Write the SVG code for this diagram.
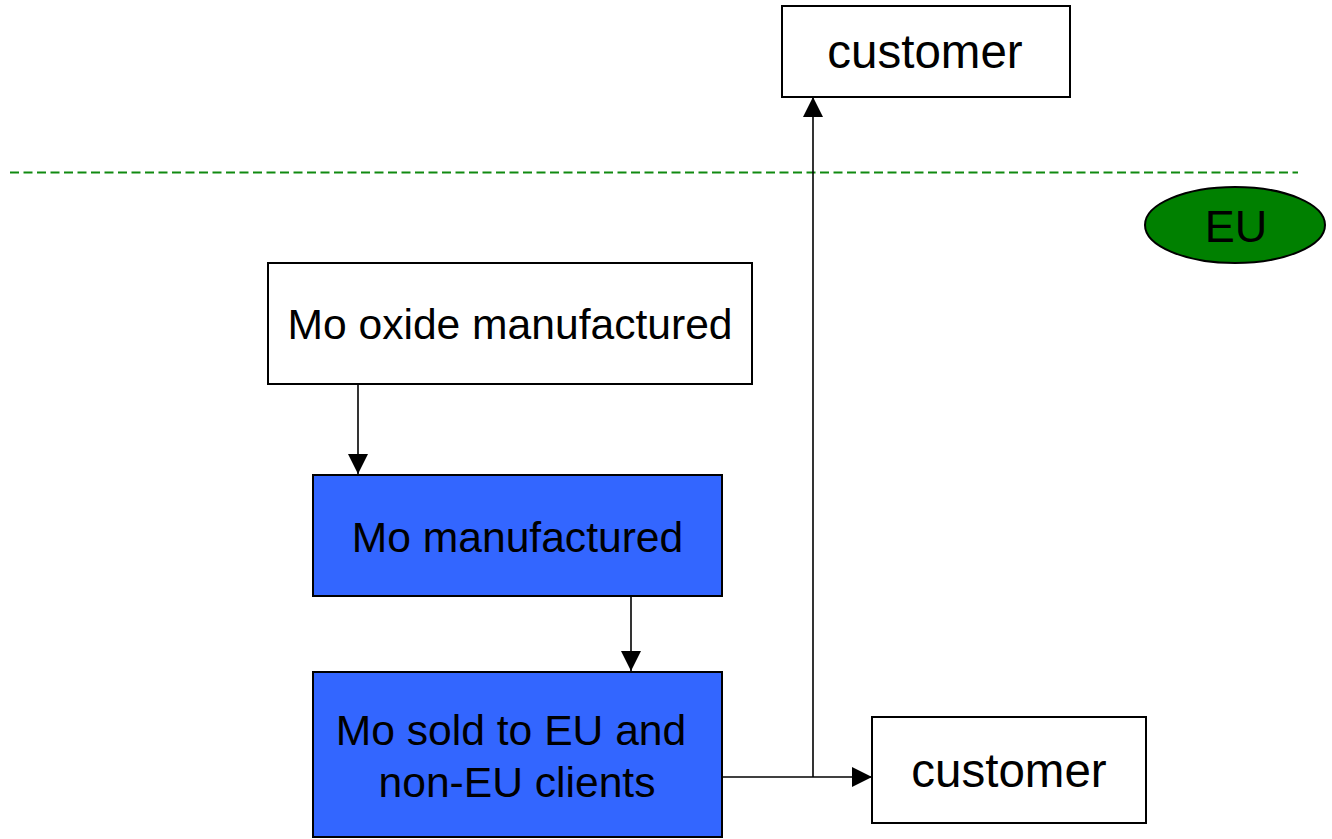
<svg xmlns="http://www.w3.org/2000/svg" width="1332" height="839" viewBox="0 0 1332 839">
<style>
.box{stroke:#000;stroke-width:2}
.w{fill:#fff}
.b{fill:#3366ff}
.t{font-family:"Liberation Sans",Arial,sans-serif;fill:#000;text-anchor:middle}
.c{stroke:#000;stroke-width:1.6;fill:none}
</style>
<defs>
<marker id="ah" viewBox="0 0 20 20" refX="20" refY="10" markerWidth="20" markerHeight="20" markerUnits="userSpaceOnUse" orient="auto">
<path d="M0,0 L20,10 L0,20 Z" fill="#000"/>
</marker>
</defs>
<rect width="1332" height="839" fill="#fff"/>
<line x1="10" y1="172.5" x2="1298" y2="172.5" stroke="#108a10" stroke-width="1.8" stroke-dasharray="9,4.5"/>
<g id="connectors">
<line class="c" x1="358" y1="384" x2="358" y2="474" marker-end="url(#ah)"/>
<line class="c" x1="631" y1="596" x2="631" y2="671" marker-end="url(#ah)"/>
<line class="c" x1="722" y1="777" x2="872" y2="777" marker-end="url(#ah)"/>
<line class="c" x1="813" y1="777" x2="813" y2="97" marker-end="url(#ah)"/>
</g>
<g id="customer-top">
<rect class="box w" x="782" y="6" width="288" height="91"/>
<text class="t" x="925" y="68" font-size="47.5">customer</text>
</g>
<g id="eu">
<ellipse cx="1235" cy="225" rx="90" ry="38" fill="#008000" stroke="#000" stroke-width="2"/>
<text class="t" x="1236" y="242" font-size="45">EU</text>
</g>
<g id="mo-oxide">
<rect class="box w" x="268" y="263" width="484" height="121"/>
<text class="t" x="510" y="339" font-size="42.6">Mo oxide manufactured</text>
</g>
<g id="mo-manufactured">
<rect class="box b" x="313" y="475" width="409" height="121"/>
<text class="t" x="517.5" y="552" font-size="42.6">Mo manufactured</text>
</g>
<g id="mo-sold">
<rect class="box b" x="313" y="672" width="409" height="165"/>
<text class="t" font-size="42.6"><tspan x="511" y="745">Mo sold to EU and</tspan><tspan x="517" y="797">non-EU clients</tspan></text>
</g>
<g id="customer-bottom">
<rect class="box w" x="872" y="717" width="274" height="106"/>
<text class="t" x="1009" y="787" font-size="47.5">customer</text>
</g>
</svg>
